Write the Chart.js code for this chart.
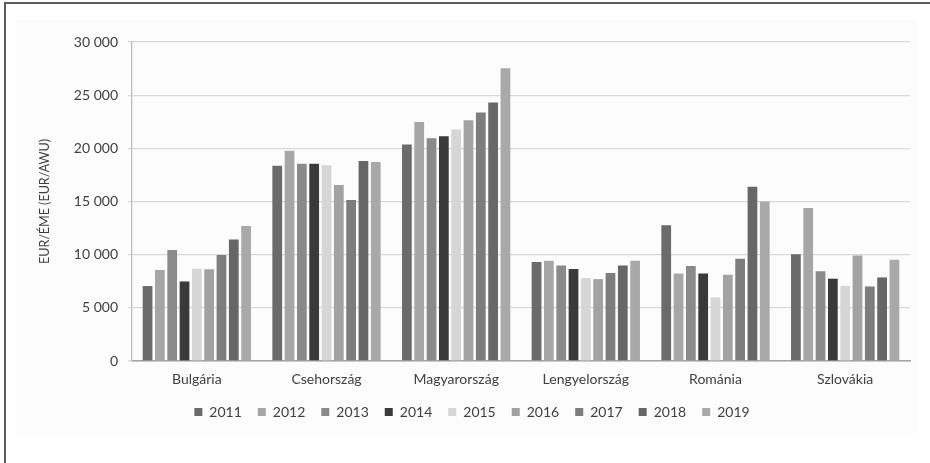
<!DOCTYPE html>
<html>
<head>
<meta charset="utf-8">
<script src="https://cdn.jsdelivr.net/npm/chart.js@4/dist/chart.umd.min.js"></script>
<style>
  html, body { margin: 0; padding: 0; background: #ffffff; }
  #wrap { position: relative; width: 930px; height: 463px; overflow: hidden; }
  #panel { position: absolute; left: 16px; top: 20px; width: 902px; height: 413px; background: #fcfcfc; }
  #frame { position: absolute; left: 4px; top: 2px; right: -10px; bottom: -10px;
           border-top: 2px solid #5c5c5c; border-left: 2px solid #5c5c5c; }
  canvas { position: absolute; left: 0; top: 0; }
</style>
</head>
<body>
<div id="wrap">
  <div id="panel"></div>
  <div id="frame"></div>
  <canvas id="chart" width="930" height="463"></canvas>
</div>
<script>
// Countries on the x axis
const countries = ['Bulgária', 'Csehország', 'Magyarország', 'Lengyelország', 'Románia', 'Szlovákia'];

// EUR per annual work unit, one array per year (order follows countries)
const y2011 = [7050, 18370, 20350, 9310, 12770, 10030];
const y2012 = [8550, 19780, 22480, 9430, 8240, 14400];
const y2013 = [10450, 18550, 20940, 8990, 8930, 8430];
const y2014 = [7480, 18550, 21130, 8650, 8240, 7740];
const y2015 = [8680, 18400, 21760, 7800, 5980, 7080];
const y2016 = [8620, 16540, 22640, 7700, 8110, 9910];
const y2017 = [9970, 15130, 23370, 8270, 9620, 7010];
const y2018 = [11420, 18800, 24310, 8990, 16380, 7860];
const y2019 = [12700, 18710, 27520, 9430, 15000, 9530];

const years = ['2011', '2012', '2013', '2014', '2015', '2016', '2017', '2018', '2019'];
const seriesValues = [y2011, y2012, y2013, y2014, y2015, y2016, y2017, y2018, y2019];
const seriesColors = ['#6b6b6b', '#a6a6a6', '#8a8a8a', '#3a3a3a', '#d6d6d6',
                      '#a2a2a2', '#7d7d7d', '#676767', '#a9a9a9'];

// y axis range and tick spacing
const yMin = 0;
const yMax = 30000;
const yStep = 5000;

const textColor = '#404040';
const fontFamily = 'Lato, "Open Sans", sans-serif';

function spaced(v) {
  return String(v).replace(/\B(?=(\d{3})+(?!\d))/g, ' ');
}

new Chart(document.getElementById('chart'), {
  type: 'bar',
  data: {
    labels: countries,
    datasets: years.map((yr, i) => ({
      label: yr,
      data: seriesValues[i],
      backgroundColor: seriesColors[i],
      borderWidth: 0,
      categoryPercentage: 0.855,
      barPercentage: 0.79
    }))
  },
  options: {
    responsive: false,
    animation: false,
    devicePixelRatio: 1,
    layout: { padding: { left: 34, right: 20, top: 42, bottom: 34 } },
    plugins: {
      tooltip: { enabled: false },
      legend: {
        position: 'bottom',
        labels: {
          boxWidth: 8,
          boxHeight: 8,
          padding: 16,
          color: textColor,
          font: { family: fontFamily, size: 14 }
        }
      }
    },
    scales: {
      x: {
        afterFit(scale) { scale.height = 28; },
        grid: { display: false, drawTicks: false },
        border: { display: true, color: '#a3a3a3', width: 1.5 },
        ticks: { color: textColor, padding: 10, font: { family: fontFamily, size: 14 } }
      },
      y: {
        min: yMin,
        max: yMax,
        afterFit(scale) { scale.width = 98; },
        grid: { color: '#d9d9d9', lineWidth: 1.3, drawTicks: true, tickLength: 4 },
        border: { display: true, color: '#bdbdbd', width: 1.3 },
        ticks: {
          stepSize: yStep,
          padding: 10,
          color: textColor,
          font: { family: fontFamily, size: 14 },
          callback: (v) => spaced(v)
        },
        title: {
          display: true,
          text: 'EUR/ÉME (EUR/AWU)',
          color: textColor,
          font: { family: fontFamily, size: 12.5 },
          padding: { top: 3, bottom: 0 }
        }
      }
    }
  }
});
</script>
</body>
</html>
